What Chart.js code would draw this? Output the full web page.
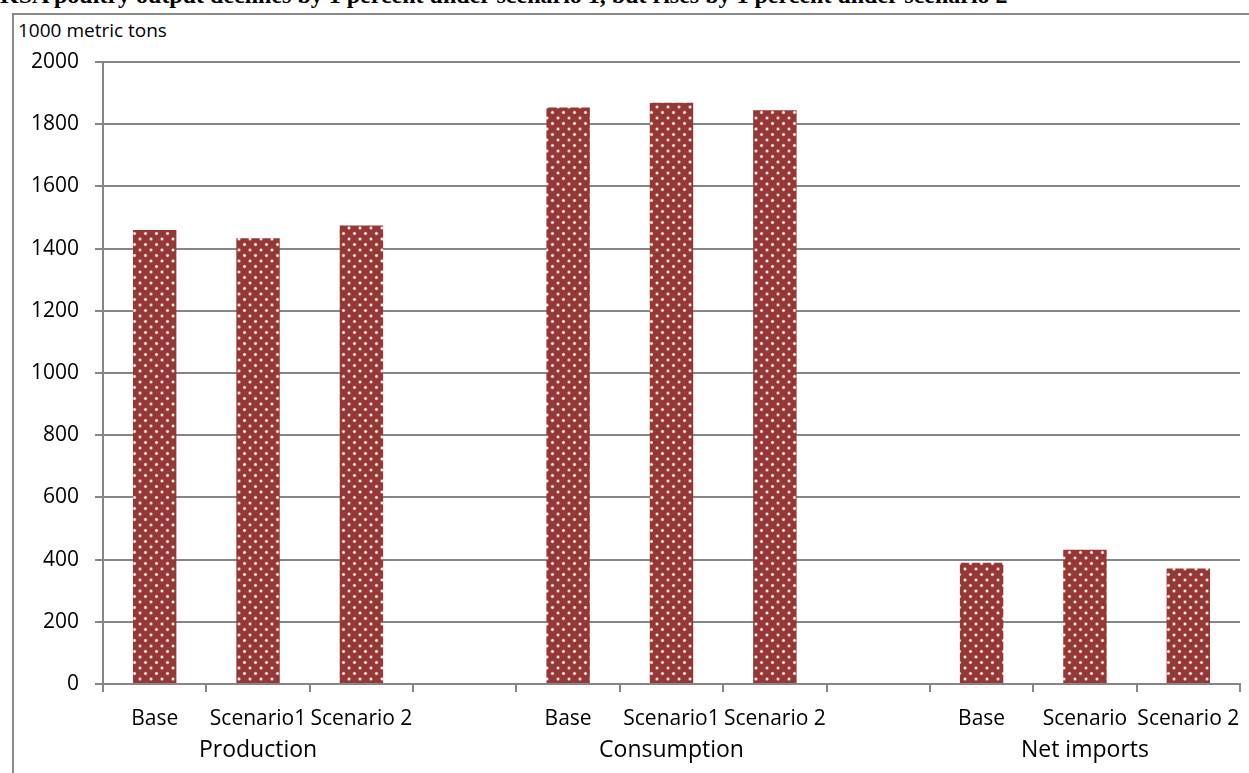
<!DOCTYPE html>
<html lang="en">
<head>
    <meta charset="UTF-8">
    <title>KSA poultry scenarios</title>
    <script src="https://cdn.jsdelivr.net/npm/chart.js"></script>
    <style>
    html, body { margin: 0; padding: 0; width: 1249px; height: 773px; overflow: hidden; background: #fff; }
    .title { position: absolute; left: 0; top: -18px; font: bold 24px "Liberation Serif", "Times New Roman", serif; color: #000; white-space: nowrap; }
    .frame { position: absolute; left: 12px; top: 13px; width: 1300px; height: 800px; border: 2px solid #8a8a8a; box-sizing: border-box; background: #fff; }
    .unit { position: absolute; left: 18px; top: 17px; font: 19px "Open Sans", sans-serif; color: #000; }
    .chart-container { position: absolute; left: 0; top: 0; width: 1249px; height: 773px; }
    </style>
</head>
<body>
    <div class="title">KSA poultry output declines by 1 percent under scenario 1, but rises by 1 percent under scenario 2</div>
    <div class="frame"></div>
    <div class="unit">1000 metric tons</div>
    <div class="chart-container">
        <canvas id="barChart"></canvas>
    </div>
    <script>
    // categories (empty slot between groups)
    const labels = ['Base', 'Scenario1', 'Scenario 2', '', 'Base', 'Scenario1', 'Scenario 2', '', 'Base', 'Scenario', 'Scenario 2'];
    const groups = ['Production', 'Consumption', 'Net imports'];
    const groupCenters = [1, 5, 9];
    const values = [1460, 1433, 1474, null, 1854, 1869, 1845, null, 390, 432, 371];
    const yTicks = [0, 200, 400, 600, 800, 1000, 1200, 1400, 1600, 1800, 2000];

    // dotted fill like the original pattern
    function dotPattern() {
        const c = document.createElement('canvas');
        c.width = 11; c.height = 11;
        const g = c.getContext('2d');
        g.fillStyle = '#953735';
        g.fillRect(0, 0, 11, 11);
        [[2.5, 2.5], [8, 8]].forEach(p => {
            g.fillStyle = 'rgba(240,200,200,0.8)';
            g.beginPath(); g.arc(p[0], p[1], 1.7, 0, Math.PI * 2); g.fill();
            g.fillStyle = '#ffffff';
            g.beginPath(); g.arc(p[0], p[1], 1.0, 0, Math.PI * 2); g.fill();
        });
        return g.createPattern(c, 'repeat');
    }

    const groupLabels = {
        id: 'groupLabels',
        afterDraw(chart) {
            const ctx = chart.ctx;
            const x = chart.scales.x;
            ctx.save();
            ctx.font = '23px "Open Sans", sans-serif';
            ctx.fillStyle = '#000';
            ctx.textAlign = 'center';
            ctx.textBaseline = 'middle';
            groups.forEach((g, i) => {
                ctx.fillText(g, x.getPixelForValue(groupCenters[i]), 750);
            });
            ctx.restore();
        }
    };

    const ctx = document.getElementById('barChart').getContext('2d');
    new Chart(ctx, {
        type: 'bar',
        data: {
            labels: labels,
            datasets: [{
                data: values,
                backgroundColor: dotPattern(),
                borderWidth: 0,
                barPercentage: 0.42,
                categoryPercentage: 1.0
            }]
        },
        options: {
            responsive: true,
            maintainAspectRatio: false,
            animation: false,
            layout: { padding: { top: 62, right: 9, left: 0, bottom: 0 } },
            plugins: { legend: { display: false }, tooltip: { enabled: false } },
            scales: {
                x: {
                    grid: { drawOnChartArea: false, color: '#868686', lineWidth: 2, tickLength: 8, offset: true },
                    border: { color: '#868686', width: 2 },
                    ticks: { color: '#000', font: { family: 'Open Sans', size: 21 }, maxRotation: 0, autoSkip: false, padding: 14 },
                    afterFit(scale) { scale.height = 89; scale.paddingLeft = 0; scale.paddingRight = 0; }
                },
                y: {
                    min: 0,
                    max: 2000,
                    afterBuildTicks(scale) { scale.ticks = yTicks.map(v => ({ value: v })); },
                    grid: { color: '#868686', lineWidth: 2, tickLength: 8 },
                    border: { color: '#868686', width: 2 },
                    ticks: { color: '#000', font: { family: 'Open Sans', size: 21 }, padding: 16, callback: v => String(v) },
                    afterFit(scale) { scale.width = 103; }
                }
            }
        },
        plugins: [groupLabels]
    });
    </script>
</body>
</html>
